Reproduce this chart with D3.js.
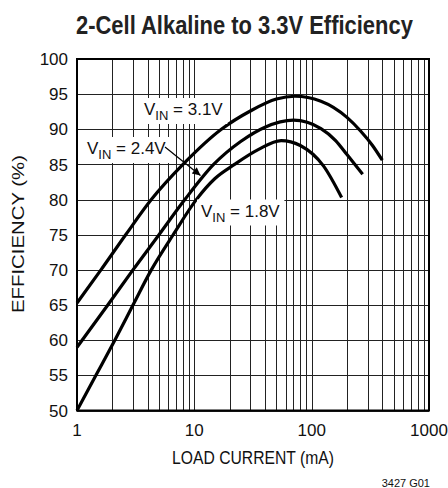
<!DOCTYPE html>
<html>
<head>
<meta charset="utf-8">
<script src="https://cdn.jsdelivr.net/npm/d3@7"></script>
<style>
  body { margin: 0; background: #fff; }
  svg { display: block; font-family: "Liberation Sans", Arial, Helvetica, sans-serif; }
</style>
</head>
<body>
<div id="chart"></div>
<script>
// load current (mA) / efficiency (%)
const vin31Current = [1, 1.6, 2.6, 4.3, 8, 17, 30, 50, 72, 120, 200, 260, 330, 400];
const vin31Eff     = [65.3, 70, 75, 80, 85, 90, 92.6, 94.3, 94.7, 94, 91.7, 89.8, 87.7, 85.6];
const vin24Current = [1, 1.83, 3.0, 5.0, 8.3, 14.6, 25, 40, 70, 120, 160, 200, 272];
const vin24Eff     = [59, 65, 70, 75, 80, 85, 88.3, 90.3, 91.3, 90.1, 88.4, 86.4, 83.6];
const vin18Current = [1, 1.45, 2.1, 3.0, 4.3, 6.6, 10.4, 15, 22, 35, 55, 80, 126, 180];
const vin18Eff     = [50, 55, 60, 65, 70, 75, 80, 83, 85, 87.1, 88.4, 87.7, 84.8, 80.3];

const yTicks = [50, 55, 60, 65, 70, 75, 80, 85, 90, 95, 100];
const xTicks = [1, 10, 100, 1000];

const width = 448, height = 488;
const plotLeft = 77, plotRight = 429, plotTop = 59, plotBottom = 410.5;

const svg = d3.select("#chart").append("svg")
    .attr("width", width)
    .attr("height", height);

const x = d3.scaleLog().domain([1, 1000]).range([plotLeft, plotRight]);
const y = d3.scaleLinear().domain([50, 100]).range([plotBottom, plotTop]);

// squeeze a text horizontally so it fills a given width (condensed look)
function fitWidth(sel, w, tx, ty, rot) {
    const natural = sel.node().getComputedTextLength();
    const k = w / natural;
    sel.attr("transform", `translate(${tx},${ty})` + (rot ? ` rotate(${rot})` : "") + ` scale(${k},1)`);
}

// grid - every 1..9 of each decade
const minor = [];
for (let dec = 1; dec < 1000; dec *= 10) {
    for (let k = 1; k < 10; k++) minor.push(dec * k);
}
minor.push(1000);

const grid = svg.append("g")
    .attr("stroke", "#222")
    .attr("stroke-width", 1)
    .attr("shape-rendering", "crispEdges");

grid.selectAll("line.v")
    .data(minor)
    .join("line")
    .attr("class", "v")
    .attr("x1", d => Math.round(x(d)) + 0.5)
    .attr("x2", d => Math.round(x(d)) + 0.5)
    .attr("y1", plotTop)
    .attr("y2", plotBottom);

grid.selectAll("line.h")
    .data(yTicks)
    .join("line")
    .attr("class", "h")
    .attr("x1", plotLeft)
    .attr("x2", plotRight)
    .attr("y1", d => Math.round(y(d)) + 0.5)
    .attr("y2", d => Math.round(y(d)) + 0.5);

// frame
svg.append("rect")
    .attr("x", plotLeft)
    .attr("y", plotTop)
    .attr("width", plotRight - plotLeft)
    .attr("height", plotBottom - plotTop)
    .attr("fill", "none")
    .attr("stroke", "#000")
    .attr("stroke-width", 2);

// curves
const series = [
    { current: vin31Current, eff: vin31Eff },
    { current: vin24Current, eff: vin24Eff },
    { current: vin18Current, eff: vin18Eff }
];

const line = d3.line()
    .x(d => x(d[0]))
    .y(d => y(d[1]))
    .curve(d3.curveMonotoneX);

svg.append("g")
    .selectAll("path")
    .data(series)
    .join("path")
    .attr("d", s => line(s.current.map((c, i) => [c, s.eff[i]])))
    .attr("fill", "none")
    .attr("stroke", "#000")
    .attr("stroke-width", 3.2)
    .attr("stroke-linecap", "butt");

// curve labels with white boxes
const labels = [
    { text: "3.1V", x: 144, y: 115 },
    { text: "2.4V", x: 87, y: 154 },
    { text: "1.8V", x: 201, y: 216.5 }
];

labels.forEach(l => {
    const g = svg.append("g");
    const bg = g.append("rect").attr("fill", "#fff");
    const t = g.append("text")
        .attr("x", l.x)
        .attr("y", l.y)
        .style("font-size", "17px")
        .attr("fill", "#111");
    t.append("tspan").text("V");
    t.append("tspan").attr("dy", 5).style("font-size", "13px").text("IN");
    t.append("tspan").attr("dy", -5).text(" = " + l.text);
    const b = t.node().getBBox();
    bg.attr("x", b.x - 4).attr("y", b.y - 2)
        .attr("width", b.width + 8).attr("height", b.height + 3);
});

// arrow from 2.4V label to its curve
svg.append("defs").append("marker")
    .attr("id", "arrow")
    .attr("viewBox", "0 0 10 10")
    .attr("refX", 10).attr("refY", 5)
    .attr("markerWidth", 10).attr("markerHeight", 8)
    .attr("markerUnits", "userSpaceOnUse")
    .attr("orient", "auto")
    .append("path")
    .attr("d", "M0,0 L10,5 L0,10 Z")
    .attr("fill", "#000");

svg.append("line")
    .attr("x1", 165).attr("y1", 147)
    .attr("x2", 200.5).attr("y2", 175.5)
    .attr("stroke", "#000")
    .attr("stroke-width", 1.2)
    .attr("marker-end", "url(#arrow)");

// tick labels
svg.append("g")
    .selectAll("text")
    .data(yTicks)
    .join("text")
    .attr("x", 68)
    .attr("y", d => y(d))
    .attr("dy", "0.36em")
    .attr("text-anchor", "end")
    .style("font-size", "17px")
    .attr("fill", "#111")
    .text(d => d);

svg.append("g")
    .selectAll("text")
    .data(xTicks)
    .join("text")
    .attr("x", d => x(d))
    .attr("y", 436)
    .attr("text-anchor", "middle")
    .style("font-size", "17px")
    .attr("fill", "#111")
    .text(d => d);

// titles
const title = svg.append("text")
    .style("font-size", "26px")
    .style("font-weight", "bold")
    .attr("fill", "#222")
    .text("2-Cell Alkaline to 3.3V Efficiency");
fitWidth(title, 337, 76, 34);

const xTitle = svg.append("text")
    .attr("text-anchor", "middle")
    .style("font-size", "17.5px")
    .attr("fill", "#111")
    .text("LOAD CURRENT (mA)");
fitWidth(xTitle, 162, 253, 464);

const yTitle = svg.append("text")
    .attr("text-anchor", "middle")
    .style("font-size", "17px")
    .attr("fill", "#111")
    .text("EFFICIENCY (%)");
fitWidth(yTitle, 158, 24, 234, -90);

svg.append("text")
    .attr("x", 430)
    .attr("y", 487)
    .attr("text-anchor", "end")
    .style("font-size", "11px")
    .attr("fill", "#111")
    .text("3427 G01");
</script>
</body>
</html>
